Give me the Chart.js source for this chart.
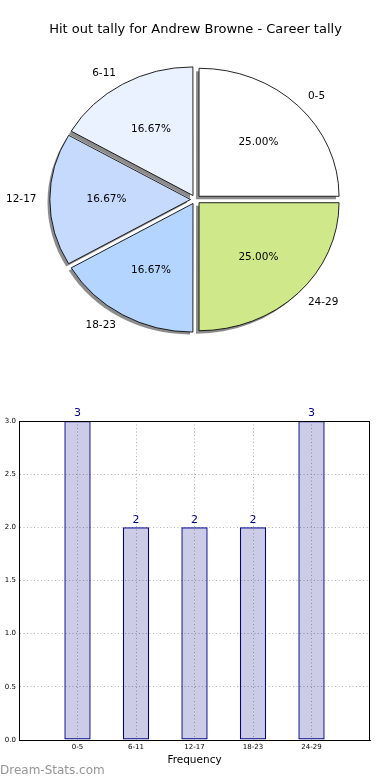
<!DOCTYPE html>
<html>
<head>
<meta charset="utf-8">
<script src="https://cdn.jsdelivr.net/npm/chart.js@4/dist/chart.umd.min.js"></script>
<style>
  html, body { margin: 0; padding: 0; background: #fff; }
  body { width: 390px; height: 780px; position: relative; overflow: hidden; font-family: "DejaVu Sans", sans-serif; }
  #pie { position: absolute; left: 0; top: 0; }
  #bar { position: absolute; left: 0; top: 380px; }
  #wm { position: absolute; left: 0; top: 762px; font-size: 12px; color: #959595; line-height: 16px; }
</style>
</head>
<body>
<canvas id="pie" width="390" height="380"></canvas>
<canvas id="bar" width="390" height="400"></canvas>
<div id="wm">Dream-Stats.com</div>
<script>
const titleText = 'Hit out tally for Andrew Browne - Career tally';
const categories = ['0-5', '6-11', '12-17', '18-23', '24-29'];
const values = [3, 2, 2, 2, 3];
const sliceColors = ['#ffffff', '#eaf1ff', '#c6dafe', '#b3d5ff', '#cfe98a'];
const yTicks = [0, 0.5, 1.0, 1.5, 2.0, 2.5, 3.0];
const xTitle = 'Frequency';

const FONT = '"DejaVu Sans", sans-serif';
const ELLIPSE_K = 128 / 140;
const total = values.reduce((a, b) => a + b, 0);

// Pie drawn counter-clockwise from 3 o'clock -> reverse for Chart.js (clockwise)
const pieLabels = categories.slice().reverse();
const pieValues = values.slice().reverse();
const pieColors = sliceColors.slice().reverse();

function arcGeom(arc) {
  const p = arc.getProps(['x', 'y', 'startAngle', 'endAngle', 'outerRadius']);
  const off = (arc.options.offset || 0) / 4; // Chart.js v4 draws offset/4
  const mid = (p.startAngle + p.endAngle) / 2;
  return { ex: p.x + off * Math.cos(mid), ey: p.y + off * Math.sin(mid), R: p.outerRadius, mid, s: p.startAngle, e: p.endAngle };
}

const ellipsePlugin = {
  id: 'ellipse',
  beforeDatasetsDraw(chart) {
    const ctx = chart.ctx;
    const a = chart.chartArea;
    const cx = (a.left + a.right) / 2, cy = (a.top + a.bottom) / 2;
    const meta = chart.getDatasetMeta(0);
    ctx.save();
    ctx.translate(-3, 3);
    ctx.translate(cx, cy);
    ctx.scale(1, ELLIPSE_K);
    ctx.translate(-cx, -cy);
    ctx.fillStyle = 'rgba(0,0,0,0.45)';
    meta.data.forEach(arc => {
      const g = arcGeom(arc);
      ctx.beginPath();
      ctx.moveTo(g.ex, g.ey);
      ctx.arc(g.ex, g.ey, g.R, g.s, g.e);
      ctx.closePath();
      ctx.fill();
    });
    ctx.restore();
    ctx.save();
    ctx.translate(cx, cy);
    ctx.scale(1, ELLIPSE_K);
    ctx.translate(-cx, -cy);
  },
  afterDatasetsDraw(chart) {
    const ctx = chart.ctx;
    ctx.restore();
    const meta = chart.getDatasetMeta(0);
    const a = chart.chartArea;
    const cy = (a.top + a.bottom) / 2;
    ctx.save();
    ctx.fillStyle = '#000';
    ctx.font = '10.5px ' + FONT;
    ctx.textBaseline = 'middle';
    meta.data.forEach((arc, i) => {
      const g = arcGeom(arc);
      const lx = g.ex + 1.1 * g.R * Math.cos(g.mid);
      const ly = cy + (g.ey + 1.1 * g.R * Math.sin(g.mid) - cy) * ELLIPSE_K;
      ctx.textAlign = Math.cos(g.mid) > 0 ? 'left' : 'right';
      ctx.fillText(pieLabels[i], lx, ly);
      const px = g.ex + 0.6 * g.R * Math.cos(g.mid);
      const py = cy + (g.ey + 0.6 * g.R * Math.sin(g.mid) - cy) * ELLIPSE_K;
      ctx.textAlign = 'center';
      ctx.fillText((pieValues[i] / total * 100).toFixed(2) + '%', px, py);
    });
    ctx.restore();
  }
};

new Chart(document.getElementById('pie'), {
  type: 'pie',
  data: {
    labels: pieLabels,
    datasets: [{
      data: pieValues,
      backgroundColor: pieColors,
      borderColor: '#000',
      borderWidth: 0.9,
      offset: 20
    }]
  },
  options: {
    responsive: false,
    animation: false,
    events: [],
    rotation: 90,
    radius: 140,
    layout: { padding: { top: 0, bottom: 32, left: 1, right: 0 } },
    plugins: {
      legend: { display: false },
      tooltip: { enabled: false },
      title: {
        display: true,
        text: titleText,
        color: '#000',
        font: { family: FONT, size: 13, weight: 'normal' },
        padding: { top: 22, bottom: 13.4 }
      }
    }
  },
  plugins: [ellipsePlugin]
});

const barLabels = [''].concat(categories, ['']);
const barData = [null].concat(values, [null]);

const framePlugin = {
  id: 'frame',
  afterDatasetsDraw(chart) {
    const ctx = chart.ctx;
    const a = chart.chartArea;
    ctx.save();
    ctx.strokeStyle = '#000';
    ctx.lineWidth = 1;
    ctx.strokeRect(Math.round(a.left) + 0.5, Math.round(a.top) + 0.5, Math.round(a.right - a.left) - 1, Math.round(a.bottom - a.top));
    const meta = chart.getDatasetMeta(0);
    ctx.fillStyle = '#00008b';
    ctx.font = '11px ' + FONT;
    ctx.textAlign = 'center';
    ctx.textBaseline = 'bottom';
    meta.data.forEach((bar, i) => {
      const v = barData[i];
      if (v === null || v === undefined) return;
      ctx.fillText(String(v), bar.x, bar.y - 2);
    });
    ctx.restore();
  }
};

new Chart(document.getElementById('bar'), {
  type: 'bar',
  data: {
    labels: barLabels,
    datasets: [{
      data: barData,
      backgroundColor: 'rgba(0,0,128,0.2)',
      borderColor: '#00008b',
      borderWidth: 1.2,
      borderSkipped: false,
      barPercentage: 0.45,
      categoryPercentage: 1
    }]
  },
  options: {
    responsive: false,
    animation: false,
    events: [],
    layout: { padding: { top: 41, right: 20, bottom: 0, left: 0 } },
    plugins: { legend: { display: false }, tooltip: { enabled: false } },
    scales: {
      x: {
        type: 'category',
        offset: false,
        afterFit(s) { s.height = 40; },
        grid: {
          offset: false,
          drawTicks: false,
          color: (c) => (c.index === 0 || c.index === barLabels.length - 1) ? 'rgba(0,0,0,0)' : '#b0b0b0',
          lineWidth: 1
        },
        border: { display: true, color: '#000', width: 1, dash: [1, 2.5] },
        ticks: { color: '#000', font: { family: FONT, size: 7 }, padding: 3, autoSkip: false, maxRotation: 0 },
        title: { display: true, text: xTitle, color: '#000', font: { family: FONT, size: 10.5 }, padding: { top: 0, bottom: 13 } }
      },
      y: {
        min: 0,
        max: 3,
        afterFit(s) { s.width = 19; },
        afterBuildTicks(s) { s.ticks = yTicks.map(v => ({ value: v })); },
        grid: { drawTicks: false, color: '#b0b0b0', lineWidth: 1 },
        border: { display: true, color: '#000', width: 1, dash: [1, 2.5] },
        ticks: { color: '#000', font: { family: FONT, size: 7 }, padding: 3, callback: (v) => Number(v).toFixed(1) }
      }
    }
  },
  plugins: [framePlugin]
});
</script>
</body>
</html>
